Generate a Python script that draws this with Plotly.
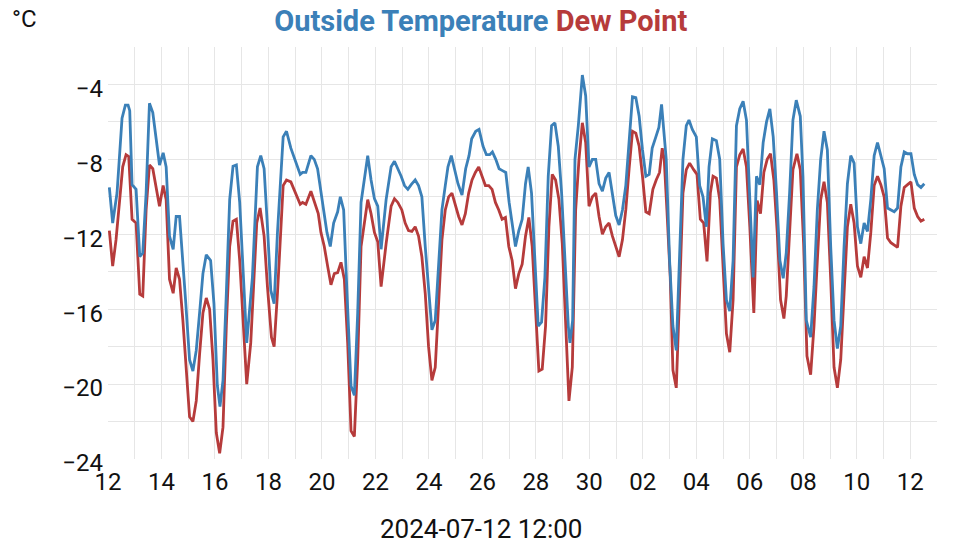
import plotly.graph_objects as go
import pandas as pd

START = pd.Timestamp("2024-06-12 00:00")

# hours after START
temp_hours = [1.2, 4.2, 8.1, 12.6, 15.6, 18, 19.5, 21.6, 25.2, 28.5, 31.2, 34.2, 37.2, 40.2, 43.2, 46.2,
              49.5, 52.2, 55.2, 58.5, 61.2, 64.2, 69.6, 73.2, 76.2, 79.2, 82.2, 85.2, 88.2, 92.1, 95.1,
              98.1, 100.5, 103.2, 106.2, 109.2, 112.2, 115.2, 118.2, 124.5, 129.6, 134.1, 137.1, 140.1,
              143.1, 146.1, 149.1, 152.1, 157.2, 160.2, 164.1, 168, 172.5, 174.6, 177.6, 182.1, 185.1,
              188.1, 190.5, 193.5, 196.5, 199.5, 202.5, 206.1, 208.5, 211.5, 214.5, 218.1, 221.1, 224.1,
              227.1, 230.1, 233.1, 236.1, 239.1, 242.1, 245.1, 249.6, 254.1, 257.1, 260.1, 263.1, 266.1,
              269.1, 272.1, 275.7, 278.7, 281.7, 284.7, 287.7, 290.7, 293.7, 296.7, 299.7, 302.7, 305.1,
              308.1, 311.1, 314.1, 317.7, 321, 324, 326.4, 330, 333, 336.6, 339.6, 342.6, 345, 348, 351,
              354, 357, 360, 363, 365.7, 368.7, 371.7, 374.7, 377.1, 380.1, 383.1, 386.1, 389.1, 392.1,
              395.1, 398.1, 401.1, 404.1, 407.1, 410.1, 413.1, 414.6, 417, 419.1, 422.1, 425.7, 428.7,
              431.7, 434.7, 437.7, 440.7, 443.7, 446.7, 449.7, 452.7, 455.7, 458.7, 461.7, 464.7, 467.7,
              470.7, 473.7, 476.7, 479.7, 482.7, 485.7, 488.4, 491.4, 494.4, 496.8, 498.6, 501, 504, 507,
              510, 513, 516, 519, 521.4, 524.4, 528, 531, 534, 537, 539.4, 542.4, 546, 549, 552, 555, 558,
              561, 564, 567, 570, 573, 576, 579, 582, 585, 588, 591, 594, 597, 600, 603, 606, 608.7, 611.7,
              614.7, 617.7, 621.3, 623.7, 626.7, 630.6, 633.6, 636.6, 639.6, 642.6, 645.6, 648.6, 651.6,
              654.6, 657.6, 660.6, 663.6, 666.6, 669.6, 672.6, 675.6, 678.6, 681.6, 684.6, 687.6, 690.6,
              693.6, 696.6, 699.6, 702.6, 705.6, 708.6, 711.6, 714.6, 717.6, 720.6, 723.6, 726.6, 729.6,
              732.6]
temp_c = [-9.5, -11.4, -9.8, -5.8, -5.1, -5.1, -5.4, -9.35, -9.6, -13.2, -13.0, -9.8, -5.0, -5.5, -6.9, -8.3,
          -7.65, -8.4, -12.1, -12.8, -11.05, -11.05, -15.5, -18.7, -19.3, -18.2, -16.2, -14.1, -13.1, -13.4,
          -15.7, -20.06, -21.2, -19.8, -15.15, -10.15, -8.37, -8.3, -10.3, -17.8, -14.3, -8.4, -7.8, -8.5,
          -11.6, -15.0, -15.7, -11.9, -6.8, -6.5, -7.4, -8.0, -8.8, -8.7, -8.7, -7.8, -8.0, -8.5, -9.6,
          -10.7, -11.9, -12.65, -11.4, -10.8, -10.0, -10.7, -15.15, -20.1, -20.6, -16.2, -10.3, -9.1, -7.8,
          -9.1, -10.1, -10.5, -12.8, -10.15, -8.4, -8.1, -8.5, -8.9, -9.4, -9.6, -9.35, -9.1, -9.4, -10.0,
          -12.65, -15.15, -17.1, -16.6, -13.7, -10.7, -9.4, -8.4, -7.8, -8.5, -9.3, -9.9, -8.5, -7.8, -6.9,
          -6.5, -6.4, -7.3, -7.75, -7.75, -7.6, -8.0, -8.5, -8.6, -8.7, -10.3, -11.6, -12.65, -11.8, -11.2,
          -9.3, -8.4, -9.8, -13.4, -16.9, -16.7, -14.3, -8.9, -6.2, -6.05, -7.3, -9.8, -13.4, -16.9, -17.8,
          -16.6, -8.0, -6.2, -3.5, -4.6, -8.4, -8.0, -8.0, -9.3, -9.7, -9.0, -8.7, -9.8, -11.0, -11.5, -10.7,
          -9.4, -7.1, -4.66, -4.7, -5.7, -7.5, -8.9, -8.8, -7.4, -6.85, -6.3, -5.07, -6.2, -8.0, -13.4,
          -16.9, -18.2, -13.4, -8.0, -6.2, -5.9, -6.4, -6.8, -9.4, -10.0, -11.6, -8.4, -6.9, -7.0, -8.0,
          -12.5, -15.5, -16.1, -13.4, -6.2, -5.3, -4.9, -5.9, -9.8, -14.3, -8.9, -9.35, -7.1, -6.0, -5.3,
          -6.8, -9.8, -13.4, -14.35, -13.0, -9.8, -5.9, -4.84, -5.7, -8.9, -16.6, -17.5, -14.8, -10.7, -8.0,
          -6.5, -7.5, -12.65, -16.6, -18.1, -16.9, -12.65, -9.3, -7.8, -8.2, -11.6, -12.5, -11.4, -11.85,
          -10.15, -7.8, -7.1, -7.8, -8.5, -10.6, -10.7, -10.8, -10.6, -8.4, -7.6, -7.7, -7.7, -8.8, -9.35,
          -9.5, -9.3]

dew_hours = [1.2, 4.2, 7.2, 10.2, 13.2, 16.2, 18.6, 21.6, 25.2, 28.5, 31.2, 34.2, 37.2, 40.2, 43.2, 46.2,
             49.5, 52.2, 55.2, 58.5, 61.2, 64.2, 67.2, 70.2, 73.2, 76.2, 79.2, 82.2, 85.2, 88.2, 91.2, 94.2,
             97.2, 100.2, 103.2, 106.2, 109.2, 112.2, 115.2, 118.2, 124.5, 128.1, 133.5, 136.5, 140.1,
             143.1, 146.7, 149.1, 152.1, 157.2, 160.2, 164.1, 168, 172.5, 174.6, 177.6, 182.1, 185.7,
             188.7, 191.1, 194.1, 197.1, 200.1, 203.1, 206.1, 209.1, 212.1, 215.1, 218.1, 221.1, 224.1,
             227.1, 230.1, 233.1, 236.1, 239.1, 242.1, 245.1, 249.6, 254.1, 257.1, 260.1, 263.7, 266.7,
             269.7, 272.7, 275.7, 278.7, 281.7, 284.7, 287.7, 290.7, 293.7, 296.7, 299.7, 302.7, 305.7,
             308.7, 311.7, 314.7, 317.7, 320.7, 323.7, 326.7, 329.7, 332.7, 335.7, 338.7, 341.7, 344.7,
             347.7, 350.7, 353.7, 356.7, 359.7, 362.7, 365.7, 368.7, 371.7, 374.7, 377.7, 380.7, 383.7,
             386.7, 389.7, 392.7, 395.7, 398.7, 401.7, 404.7, 407.7, 410.7, 413.7, 416.7, 419.7, 422.7,
             425.7, 428.7, 431.7, 434.7, 437.7, 440.7, 443.7, 446.7, 449.7, 452.7, 455.7, 458.7, 461.7,
             464.7, 467.7, 470.7, 473.7, 476.7, 479.7, 482.7, 485.7, 489, 492, 495, 497.4, 499.2, 501.6,
             504.6, 507, 510, 513, 516, 519, 522, 525.6, 528.6, 531.6, 534.6, 537.6, 540.6, 543, 546, 549,
             552, 555, 558, 561, 564, 567, 570, 573, 576, 579.6, 582.6, 585.6, 588.6, 591.6, 594.6, 597.6,
             600.6, 603.6, 606.6, 608.7, 611.7, 614.7, 618.3, 621.3, 624.3, 627.3, 630.6, 633.6, 636.6,
             639.6, 642.6, 645.6, 648.6, 651.6, 654.6, 657.6, 660.6, 663.6, 666.6, 669.6, 672.6, 675.6,
             678.6, 681.6, 684.6, 687.6, 690.6, 693.6, 696.6, 699.6, 702.6, 705.6, 708.6, 711.6, 714.6,
             717.6, 720.6, 723.6, 726.6, 729.6, 732.6]
dew_c = [-11.8, -13.7, -12.3, -10.15, -8.4, -7.75, -7.85, -11.2, -11.4, -15.2, -15.3, -10.7, -8.3, -8.5, -9.4,
         -10.5, -9.4, -10.15, -14.4, -15.15, -13.8, -14.4, -16.6, -19.1, -21.75, -22.0, -20.9, -18.4, -16.2,
         -15.4, -16.0, -18.7, -22.6, -23.7, -22.3, -16.9, -12.65, -11.3, -11.2, -13.4, -20.0, -17.8, -11.4,
         -10.6, -12.1, -14.8, -17.5, -18.0, -15.15, -9.4, -9.1, -9.2, -9.8, -10.4, -10.3, -10.4, -9.7, -10.3,
         -10.9, -11.9, -12.65, -13.7, -14.7, -14.1, -14.05, -13.5, -14.4, -17.8, -22.5, -22.8, -18.7, -12.65,
         -11.4, -10.15, -10.9, -11.9, -12.4, -14.8, -12.5, -10.5, -10.1, -10.3, -10.7, -11.4, -11.8, -11.85,
         -11.6, -12.1, -13.2, -15.15, -18.0, -19.8, -19.1, -15.5, -12.3, -10.7, -10.0, -9.8, -10.5, -11.05,
         -11.5, -10.9, -9.8, -9.1, -8.7, -8.4, -8.9, -9.4, -9.4, -9.6, -10.3, -10.7, -11.2, -11.1, -12.65,
         -13.4, -14.9, -14.1, -13.6, -12.1, -11.1, -12.65, -16.0, -19.3, -19.2, -16.9, -11.6, -8.8, -9.1,
         -10.15, -12.5, -16.9, -20.9, -19.1, -10.7, -8.0, -6.05, -7.1, -10.5, -10.0, -9.8, -11.05, -12.0,
         -11.6, -11.4, -12.1, -12.7, -13.2, -12.3, -10.7, -8.5, -6.5, -6.6, -7.3, -8.9, -10.8, -10.9, -9.6,
         -9.1, -8.7, -7.4, -8.0, -10.7, -14.3, -19.25, -20.2, -15.15, -9.8, -8.55, -8.2, -8.55, -8.8, -11.2,
         -11.4, -13.45, -9.8, -8.9, -9.0, -10.15, -13.4, -17.3, -18.3, -15.5, -8.4, -7.75, -7.45, -8.4,
         -11.6, -16.2, -10.2, -10.9, -8.7, -8.0, -7.7, -9.1, -11.9, -15.5, -16.5, -15.3, -11.9, -8.55, -7.7,
         -8.55, -12.5, -18.5, -19.5, -16.9, -13.4, -10.15, -9.2, -10.3, -14.4, -19.1, -20.2, -18.7, -15.15,
         -11.6, -10.4, -11.4, -13.7, -14.3, -13.2, -13.8, -11.9, -9.4, -8.9, -9.35, -10.0, -12.2, -12.45,
         -12.6, -12.7, -10.5, -9.5, -9.35, -9.2, -10.6, -11.05, -11.3, -11.2]

TEMP_COLOR = '#3b80b8'
DEW_COLOR = '#b63b3b'
FONT = 'Roboto'

temp_x = START + pd.to_timedelta(temp_hours, unit='h')
dew_x = START + pd.to_timedelta(dew_hours, unit='h')

fig = go.Figure()
fig.add_trace(go.Scatter(
    name='Dew Point', x=dew_x, y=dew_c, mode='lines',
    line={'color': DEW_COLOR, 'width': 2.8}
))
fig.add_trace(go.Scatter(
    name='Outside Temperature', x=temp_x, y=temp_c, mode='lines',
    line={'color': TEMP_COLOR, 'width': 2.8}
))

# the page body adds an 8px offset, so everything is placed 8px up/left
fig.update_layout(
    width=960,
    height=540,
    showlegend=False,
    plot_bgcolor='white',
    paper_bgcolor='white',
    font={'family': FONT, 'color': '#111111', 'size': 22},
    margin={'l': 100, 'r': 31, 't': 39, 'b': 89},
    title={
        'text': f"<b><span style='color:{TEMP_COLOR}'>Outside Temperature</span> "
                f"<span style='color:{DEW_COLOR}'>Dew Point</span></b>",
        'x': 0.4925, 'xanchor': 'center', 'y': 0.976, 'yanchor': 'middle',
        'font': {'family': FONT, 'size': 29},
    },
    annotations=[
        dict(text='°C', xref='paper', yref='paper', x=-0.118, y=1.067,
             xanchor='left', yanchor='middle', showarrow=False,
             font={'family': FONT, 'size': 24}),
        dict(text='2024-07-12 12:00', xref='paper', yref='paper', x=0.450, y=-0.171,
             xanchor='center', yanchor='middle', showarrow=False,
             font={'family': FONT, 'size': 26}),
    ],
)
fig.update_xaxes(
    type='date',
    range=[START, START + pd.Timedelta(days=31)],
    tick0=START, dtick=2 * 86400000, tickformat='%d',
    showgrid=True, gridcolor='#e6e6e6', gridwidth=1,
    minor={'dtick': 86400000, 'showgrid': True, 'gridcolor': '#e6e6e6'},
    showline=False, zeroline=False, ticks='',
    tickfont={'size': 24}, ticklabelstandoff=6,
)
fig.update_yaxes(
    range=[-24, -2],
    tick0=-4, dtick=4,
    showgrid=True, gridcolor='#e6e6e6', gridwidth=1,
    minor={'dtick': 2, 'showgrid': True, 'gridcolor': '#e6e6e6'},
    showline=False, zeroline=False, ticks='',
    tickfont={'size': 24}, ticklabelstandoff=4, ticklabelshift=4,
)

fig.write_html("out.html")
